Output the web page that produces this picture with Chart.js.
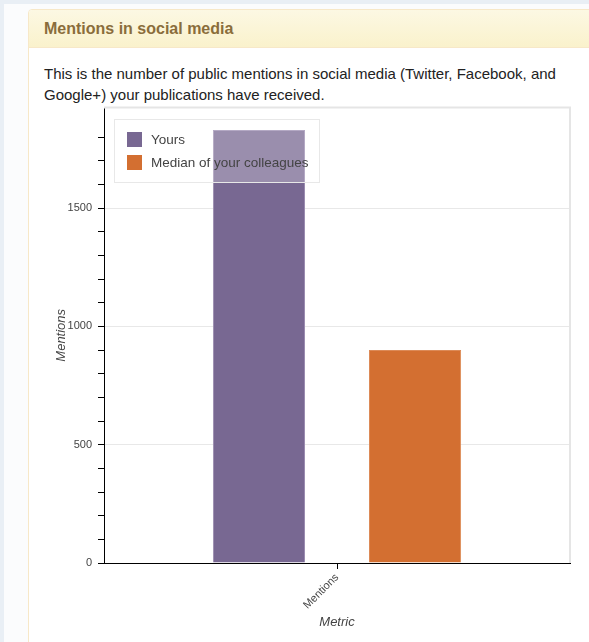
<!DOCTYPE html>
<html>
<head>
<meta charset="utf-8">
<script src="https://cdn.jsdelivr.net/npm/chart.js@4.4.0/dist/chart.umd.min.js"></script>
<style>
body {
    margin: 0;
    width: 589px;
    height: 642px;
    overflow: hidden;
    background: #e9eff5;
    font-family: "Liberation Sans", Arial, sans-serif;
}
.page {
    position: absolute;
    left: 4px;
    top: 4px;
    width: 700px;
    height: 700px;
    background: #fbfcfd;
}
.panel {
    position: absolute;
    left: 28px;
    top: 9px;
    width: 620px;
    height: 700px;
    background: #fff;
    border: 1px solid #f7e8c8;
    border-radius: 4px;
}
.panel-heading {
    background: linear-gradient(#fcf8e3, #faf2cc);
    border-bottom: 1px solid #f7e8c8;
    padding: 10px 15px;
    height: 17px;
    line-height: 17px;
    font-size: 16px;
    font-weight: bold;
    color: #8a6d3b;
    border-radius: 3px 3px 0 0;
}
.panel-body {
    padding: 15px 15px;
}
.panel-body p {
    margin: 0;
    width: 520px;
    font-size: 15px;
    line-height: 21px;
    color: #222;
}
.chart-box {
    position: absolute;
    left: 45px;
    top: 95px;
    width: 530px;
    height: 547px;
}
</style>
</head>
<body>
<div class="page"></div>
<div class="panel">
    <div class="panel-heading">Mentions in social media</div>
    <div class="panel-body">
        <p>This is the number of public mentions in social media (Twitter, Facebook, and Google+) your publications have received.</p>
    </div>
</div>
<div class="chart-box"><canvas id="canvas"></canvas></div>

<script>
const categories = ['Mentions'];
const yoursValues = [1830];
const medianValues = [900];
const yMax = 1925;
const yStep = 100;
const yLabelStep = 500;

const fontFamily = '"Liberation Sans", Arial, sans-serif';

// legend drawn inside the plot, top left, over the bars
const boxLegend = {
    id: 'boxLegend',
    afterDatasetsDraw(chart) {
        const ctx = chart.ctx;
        const area = chart.chartArea;
        ctx.save();
        ctx.font = '13.5px ' + fontFamily;
        const sets = chart.data.datasets;
        const textW = Math.max(...sets.map(d => ctx.measureText(d.label).width));
        const x = Math.round(area.left) + 10;
        const y = Math.round(area.top) + 11;
        const w = Math.round(37 + textW + 10);
        const h = 63;
        ctx.fillStyle = 'rgba(255,255,255,0.25)';
        ctx.fillRect(x, y, w, h);
        ctx.strokeStyle = '#e8e8e8';
        ctx.lineWidth = 1;
        ctx.strokeRect(x + 0.5, y + 0.5, w, h);
        sets.forEach(function (d, i) {
            const ry = y + 13 + i * 23;
            ctx.fillStyle = d.backgroundColor;
            ctx.fillRect(x + 13, ry, 15, 15);
            ctx.fillStyle = '#444';
            ctx.textBaseline = 'middle';
            ctx.fillText(d.label, x + 37, ry + 8);
        });
        ctx.restore();
    }
};

// light outline on top and right of the plot
const frame = {
    id: 'frame',
    beforeDatasetsDraw(chart) {
        const ctx = chart.ctx;
        const a = chart.chartArea;
        ctx.save();
        ctx.strokeStyle = '#e5e5e5';
        ctx.lineWidth = 2;
        ctx.beginPath();
        ctx.moveTo(a.left, a.top);
        ctx.lineTo(a.right, a.top);
        ctx.lineTo(a.right, a.bottom);
        ctx.stroke();
        ctx.restore();
    }
};

const ctx = document.getElementById('canvas').getContext('2d');
const myChart = new Chart(ctx, {
    type: 'bar',
    data: {
        labels: categories,
        datasets: [{
            label: 'Yours',
            data: yoursValues,
            backgroundColor: '#786892',
            borderColor: '#9b8cb0',
            borderWidth: 1
        }, {
            label: 'Median of your colleagues',
            data: medianValues,
            backgroundColor: '#d36f31',
            borderColor: '#dc8a57',
            borderWidth: 1
        }]
    },
    options: {
        responsive: true,
        maintainAspectRatio: false,
        animation: false,
        categoryPercentage: 0.67,
        barPercentage: 0.59,
        layout: {
            padding: { top: 4, right: 5, bottom: 0, left: 0 }
        },
        plugins: {
            legend: { display: false },
            tooltip: { enabled: false }
        },
        scales: {
            x: {
                grid: {
                    offset: false,
                    drawOnChartArea: false,
                    tickLength: 6,
                    tickColor: '#000'
                },
                border: { color: '#000', width: 1 },
                ticks: {
                    minRotation: 45,
                    maxRotation: 45,
                    color: '#444',
                    padding: 2,
                    font: { family: fontFamily, size: 11 }
                },
                title: {
                    display: true,
                    text: 'Metric',
                    color: '#444',
                    padding: { top: 4, bottom: 12 },
                    font: { family: fontFamily, size: 13, style: 'italic' }
                },
                afterFit: function (s) { s.height = 79; }
            },
            y: {
                min: 0,
                max: yMax,
                grid: {
                    tickLength: 6,
                    color: function (c) {
                        const v = c.tick.value;
                        return (v > 0 && v % yLabelStep === 0) ? '#e8e8e8' : 'rgba(0,0,0,0)';
                    },
                    tickColor: function (c) {
                        return c.tick.value % yStep === 0 ? '#000' : 'rgba(0,0,0,0)';
                    }
                },
                border: { color: '#000', width: 1 },
                ticks: {
                    stepSize: yStep,
                    padding: 6,
                    color: '#444',
                    font: { family: fontFamily, size: 11 },
                    callback: function (v) {
                        return v % yLabelStep === 0 ? v : '';
                    }
                },
                title: {
                    display: true,
                    text: 'Mentions',
                    color: '#444',
                    padding: { top: 9, bottom: 4 },
                    font: { family: fontFamily, size: 13, style: 'italic' }
                },
                afterFit: function (s) { s.width = 59; }
            }
        }
    },
    plugins: [frame, boxLegend]
});
</script>
</body>
</html>
